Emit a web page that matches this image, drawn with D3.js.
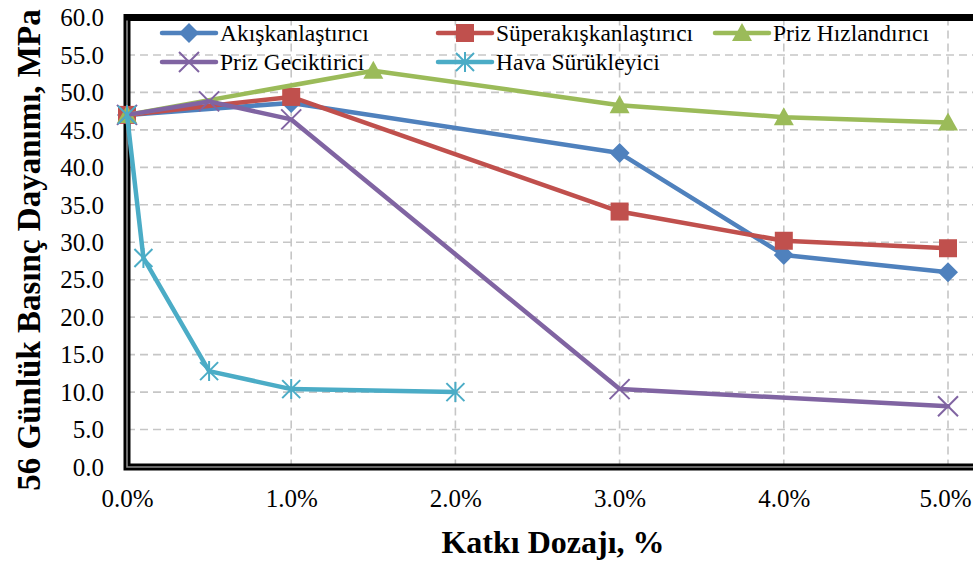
<!DOCTYPE html>
<html><head><meta charset="utf-8">
<script src="https://cdn.jsdelivr.net/npm/d3@7"></script>
<style>
html,body{margin:0;padding:0;background:#fff;}
svg{display:block;}
svg text{font-family:"Liberation Serif","Times New Roman",Times,serif !important;}
</style></head>
<body>
<svg id="chart" width="973" height="565"></svg>
<script>
// ---- data ----
const seriesNames = ["Akışkanlaştırıcı","Süperakışkanlaştırıcı","Priz Hızlandırıcı","Priz Geciktirici","Hava Sürükleyici"];
const akiskanX = [0, 1, 3, 4, 5];
const akiskanY = [47.0, 48.6, 41.9, 28.3, 26.0];
const superX = [0, 1, 3, 4, 5];
const superY = [47.0, 49.4, 34.1, 30.2, 29.2];
const hizlandiriciX = [0, 1.5, 3, 4, 5];
const hizlandiriciY = [47.0, 52.9, 48.3, 46.7, 46.0];
const geciktiriciX = [0, 0.5, 1, 3, 5];
const geciktiriciY = [47.0, 48.8, 46.4, 10.4, 8.1];
const havaX = [0, 0.1, 0.5, 1, 2];
const havaY = [47.0, 27.9, 12.8, 10.4, 10.0];
const xTicks = [0, 1, 2, 3, 4, 5];
const yTicks = [0, 5, 10, 15, 20, 25, 30, 35, 40, 45, 50, 55, 60];
const xTitle = "Katkı Dozajı, %";
const yTitle = "56 Günlük Basınç Dayanımı, MPa";

const colors = ["#4F81BD","#C0504D","#9BBB59","#8064A2","#4BACC6"];
const markers = ["diamond","square","triangle","x","asterisk"];
const series = [
  {name: seriesNames[0], xs: akiskanX, ys: akiskanY},
  {name: seriesNames[1], xs: superX, ys: superY},
  {name: seriesNames[2], xs: hizlandiriciX, ys: hizlandiriciY},
  {name: seriesNames[3], xs: geciktiriciX, ys: geciktiriciY},
  {name: seriesNames[4], xs: havaX, ys: havaY}
].map((s,i)=>({...s, color: colors[i], marker: markers[i], pts: s.xs.map((x,j)=>({x, y: s.ys[j]}))}));

const svg = d3.select("#chart");
const x = d3.scaleLinear().domain([0,5]).range([127,948]);
const y = d3.scaleLinear().domain([0,60]).range([467,17.5]);

// gridlines
const grid = svg.append("g");
grid.selectAll("line.h").data(yTicks.filter(t=>t>0 && t<60)).join("line")
  .attr("x1", x(0)).attr("x2", 1000).attr("y1", d=>y(d)).attr("y2", d=>y(d))
  .attr("stroke","#c6c6c6").attr("stroke-width",1.6).attr("stroke-dasharray","8,5");
grid.selectAll("line.v").data(xTicks.filter(t=>t>0)).join("line")
  .attr("x1", d=>x(d)).attr("x2", d=>x(d)).attr("y1", y(60)).attr("y2", y(0))
  .attr("stroke","#c6c6c6").attr("stroke-width",1.6).attr("stroke-dasharray","8,5");

// frame (double border)
svg.append("rect").attr("x", x(0)).attr("y", y(60)).attr("width", 1000).attr("height", y(0)-y(60))
  .attr("fill","none").attr("stroke","#000").attr("stroke-width",7);
svg.append("path").attr("d", `M${x(0)},${y(60)+3}V${y(0)}H1000`)
  .attr("fill","none").attr("stroke","#8a8a8a").attr("stroke-width",1.6);

// axes (labels only)
const yAxis = d3.axisLeft(y).tickValues(yTicks).tickSize(0).tickPadding(0).tickFormat(d3.format(".1f"));
const ya = svg.append("g").attr("transform","translate(104,0)").call(yAxis);
ya.select(".domain").remove();
ya.selectAll("text").attr("font-size",25).attr("fill","#000").attr("dy","0.33em");

const xAxis = d3.axisBottom(x).tickValues(xTicks).tickSize(0).tickPadding(0).tickFormat(d=>d3.format(".1f")(d)+"%");
const xa = svg.append("g").attr("transform","translate(0,489)").call(xAxis);
xa.select(".domain").remove();
xa.selectAll("text").attr("font-size",25).attr("fill","#000").attr("dy","0.71em")
  .attr("text-anchor", d => d === 5 ? "end" : "middle")
  .attr("x", d => d === 5 ? 971 - x(5) : 0);

// titles
svg.append("text").attr("x", 553).attr("y", 553).attr("text-anchor","middle")
  .attr("font-weight","bold").attr("font-size",32).attr("fill","#000").text(xTitle);
svg.append("text").attr("transform","translate(40,250) rotate(-90)").attr("text-anchor","middle")
  .attr("font-weight","bold").attr("font-size",33).attr("fill","#000").text(yTitle);

// marker drawer
function drawMarker(g, type, color, cx, cy) {
  if (type === "diamond") {
    g.append("path").attr("d", `M${cx},${cy-10}L${cx+10},${cy}L${cx},${cy+10}L${cx-10},${cy}Z`).attr("fill",color);
  } else if (type === "square") {
    g.append("rect").attr("x",cx-9).attr("y",cy-9).attr("width",18).attr("height",18).attr("fill",color);
  } else if (type === "triangle") {
    g.append("path").attr("d", `M${cx},${cy-10}L${cx+10},${cy+8}L${cx-10},${cy+8}Z`).attr("fill",color);
  } else if (type === "x") {
    g.append("path").attr("d", `M${cx-10},${cy-10}L${cx+10},${cy+10}M${cx-10},${cy+10}L${cx+10},${cy-10}`)
      .attr("stroke",color).attr("stroke-width",2).attr("fill","none");
  } else if (type === "asterisk") {
    g.append("path").attr("d", `M${cx-9},${cy-9}L${cx+9},${cy+9}M${cx-9},${cy+9}L${cx+9},${cy-9}M${cx},${cy-10}L${cx},${cy+10}`)
      .attr("stroke",color).attr("stroke-width",2).attr("fill","none");
  }
}

const line = d3.line().x(d=>x(d.x)).y(d=>y(d.y));
series.forEach(s=>{
  const g = svg.append("g");
  g.append("path").datum(s.pts).attr("d", line).attr("fill","none")
    .attr("stroke", s.color).attr("stroke-width",4.5).attr("stroke-linejoin","round").attr("stroke-linecap","round");
  s.pts.forEach(p=>drawMarker(g, s.marker, s.color, x(p.x), y(p.y)));
});

// legend
const legendPos = [
  {lx:162, ly:33}, {lx:438, ly:33}, {lx:715, ly:33},
  {lx:162, ly:62}, {lx:438, ly:62}
];
series.forEach((s,i)=>{
  const p = legendPos[i];
  const g = svg.append("g");
  g.append("line").attr("x1",p.lx).attr("x2",p.lx+54).attr("y1",p.ly).attr("y2",p.ly)
    .attr("stroke",s.color).attr("stroke-width",4.5).attr("stroke-linecap","round");
  drawMarker(g, s.marker, s.color, p.lx+27, p.ly);
  g.append("text").attr("x",p.lx+58).attr("y",p.ly+8).attr("font-size",23.5).attr("fill","#000").text(s.name);
});
</script>
</body></html>
